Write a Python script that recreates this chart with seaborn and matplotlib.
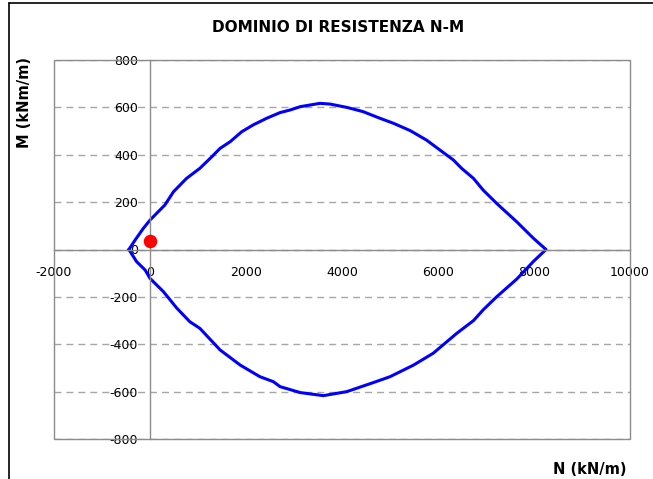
import numpy as np
import pandas as pd
import matplotlib
matplotlib.use("Agg")
import matplotlib.pyplot as plt
from matplotlib.lines import Line2D
from matplotlib.patches import Rectangle
from matplotlib.ticker import MultipleLocator
import seaborn as sns

# Interaction domain N-M: upper branch (left to right)
N_upper = [-440, -310, -140, 0, 140, 310, 490, 760, 1040, 1290, 1460, 1670, 1910,
           2150, 2430, 2710, 2920, 3130, 3540, 3750, 4100, 4440, 4790, 5070, 5420,
           5760, 6040, 6320, 6490, 6740, 6940, 7220, 7640, 7990, 8250]
M_upper = [0, 40, 89, 124, 153, 188, 244, 300, 343, 392, 427, 455, 497,
           526, 554, 578, 589, 603, 617, 614, 600, 582, 554, 533, 502,
           462, 420, 378, 343, 300, 251, 195, 117, 47, 0]

# Lower branch (right to left)
N_lower = [8250, 7990, 7640, 7220, 6940, 6740, 6390, 5900, 5490, 5000, 4650, 4100,
           3610, 3130, 2710, 2570, 2290, 1880, 1460, 1040, 830, 560, 280, 0,
           -100, -280, -440]
M_lower = [0, -50, -125, -200, -255, -300, -354, -438, -488, -537, -562, -600,
           -617, -604, -579, -558, -537, -488, -424, -333, -305, -248, -178, -122,
           -87, -51, 0]

# Design load point
N_load = [0]
M_load = [36]

x_ticks = [-2000, 0, 2000, 4000, 6000, 8000, 10000]
y_ticks = [-800, -600, -400, -200, 0, 200, 400, 600, 800]

domain = pd.DataFrame({
    "N": N_upper + N_lower,
    "M": M_upper + M_lower,
    "order": np.arange(len(N_upper) + len(N_lower)),
})
load = pd.DataFrame({"N": N_load, "M": M_load})

sns.set_style("white")
plt.rcParams["font.family"] = ["DejaVu Sans"]
plt.rcParams["text.color"] = "black"

W, H = 653, 479
fig = plt.figure(figsize=(W / 100, H / 100), dpi=100)
ax = fig.add_axes([54 / W, 40 / H, 576 / W, 379 / H])

sns.lineplot(data=domain, x="N", y="M", sort=False, estimator=None,
             color="#0000ff", linewidth=2.2, ax=ax)
sns.scatterplot(data=load, x="N", y="M", color="#ff0000", s=95,
                edgecolor="#ff0000", linewidth=0, zorder=5, ax=ax)

ax.set_xlim(-2000, 10000)
ax.set_ylim(-800, 800)
ax.set_xticks(x_ticks)
ax.set_yticks(y_ticks)
ax.set_xticklabels([str(v) for v in x_ticks])
ax.set_yticklabels([str(v) for v in y_ticks])
ax.xaxis.set_minor_locator(MultipleLocator(400))
ax.yaxis.set_minor_locator(MultipleLocator(40))
ax.set_xlabel("")
ax.set_ylabel("")

grey = "#8c8c8c"
# axes crossing at the origin
for side in ("left", "bottom"):
    ax.spines[side].set_position(("data", 0))
    ax.spines[side].set_color(grey)
    ax.spines[side].set_linewidth(1.0)
    ax.spines[side].set_zorder(2)
for side in ("right", "top"):
    ax.spines[side].set_visible(False)

# plot-area frame
ax.add_patch(Rectangle((0, 0), 1, 1, transform=ax.transAxes, fill=False,
                       edgecolor=grey, linewidth=1.0, clip_on=False, zorder=3))

ax.yaxis.grid(True, color="#a6a6a6", linestyle=(0, (5, 3.6)), linewidth=1.0)
ax.xaxis.grid(False)
ax.set_axisbelow(True)

ax.tick_params(axis="both", which="both", colors=grey, labelcolor="black",
               labelsize=9)
ax.tick_params(axis="x", which="major", direction="out", length=3, pad=9)
ax.tick_params(axis="x", which="minor", direction="out", length=3)
ax.tick_params(axis="y", which="major", direction="inout", length=5, pad=6)
ax.tick_params(axis="y", which="minor", direction="inout", length=4)

fig.text(338 / W, 1 - 28 / H, "DOMINIO DI RESISTENZA N-M", ha="center",
         va="center", fontsize=11, fontweight="bold")
fig.text(25 / W, 1 - 102 / H, "M (kNm/m)", ha="center", va="center",
         rotation=90, fontsize=10.5, fontweight="bold")
fig.text(590 / W, 1 - 469 / H, "N (kN/m)", ha="center", va="center",
         fontsize=10.5, fontweight="bold")

# outer chart border
fig.add_artist(Line2D([9 / W, 9 / W], [0, 1 - 2.5 / H], color="black", linewidth=1.2))
fig.add_artist(Line2D([9 / W, 1], [1 - 2.5 / H, 1 - 2.5 / H], color="black", linewidth=1.2))

fig.savefig("out.png", dpi=100)
